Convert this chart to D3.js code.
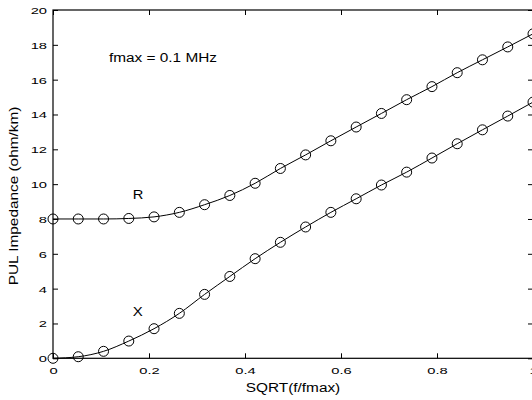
<!DOCTYPE html>
<html>
<head>
<meta charset="utf-8">
<script src="https://cdn.jsdelivr.net/npm/d3@7"></script>
<style>
  body { margin: 0; background: #fff; }
  svg text { font-family: "Liberation Sans", Arial, Helvetica, sans-serif; fill: #000; }
</style>
</head>
<body>
<div id="chart"></div>
<script>

// sample points, sqrt(f/fmax)
const sqrtF = [0, 0.0526, 0.1053, 0.1579, 0.2105, 0.2632, 0.3158, 0.3684, 0.4211, 0.4737,
               0.5263, 0.5789, 0.6316, 0.6842, 0.7368, 0.7895, 0.8421, 0.8947, 0.9474, 1];

// resistance R (ohm/km)
const rVals = [8.0, 8.0, 8.0, 8.03, 8.12, 8.38, 8.82, 9.35, 10.05, 10.9,
               11.68, 12.49, 13.28, 14.06, 14.85, 15.6, 16.4, 17.14, 17.88, 18.63];

// reactance X (ohm/km)
const xVals = [0.0, 0.09, 0.4, 0.99, 1.7, 2.58, 3.67, 4.7, 5.72, 6.66,
               7.54, 8.38, 9.16, 9.95, 10.69, 11.5, 12.32, 13.12, 13.91, 14.71];

const xTicks = [0, 0.2, 0.4, 0.6, 0.8, 1];
const yTicks = [0, 2, 4, 6, 8, 10, 12, 14, 16, 18, 20];

const W = 532, H = 400;
const box = {left: 53, right: 533, top: 10, bottom: 358.3};

// text in the reference is wide for its height
const tickFont = 9.5, tickStretch = 1.55;
const labelFont = 12.3, labelStretch = 1.25;

const svg = d3.select("#chart").append("svg")
    .attr("width", W)
    .attr("height", H);

const x = d3.scaleLinear().domain([0, 1]).range([box.left, box.right]);
const y = d3.scaleLinear().domain([0, 20]).range([box.bottom, box.top]);

// axes, ticks pointing inward
const bottomAxis = svg.append("g")
    .attr("transform", `translate(0,${box.bottom})`)
    .call(d3.axisBottom(x).tickValues(xTicks).tickSizeInner(-5).tickSizeOuter(0).tickFormat(d => String(d)));
bottomAxis.selectAll("text")
    .attr("y", 16)
    .attr("dy", 0)
    .style("font-size", tickFont + "px")
    .attr("transform", `scale(${tickStretch},1)`);

const leftAxis = svg.append("g")
    .attr("transform", `translate(${box.left},0)`)
    .call(d3.axisLeft(y).tickValues(yTicks).tickSizeInner(-5).tickSizeOuter(0).tickFormat(d => String(d)));
leftAxis.selectAll("text")
    .attr("x", -6 / tickStretch)
    .attr("dy", "0.36em")
    .style("font-size", tickFont + "px")
    .attr("transform", `scale(${tickStretch},1)`);

svg.append("g")
    .attr("transform", `translate(0,${box.top})`)
    .call(d3.axisTop(x).tickValues(xTicks).tickSizeInner(-5).tickSizeOuter(0).tickFormat(""));

svg.append("g")
    .attr("transform", `translate(${box.right},0)`)
    .call(d3.axisRight(y).tickValues(yTicks).tickSizeInner(-5).tickSizeOuter(0).tickFormat(""));

svg.selectAll(".domain").remove();
svg.selectAll(".tick line").attr("stroke", "#000");

// frame
svg.append("rect")
    .attr("x", box.left)
    .attr("y", box.top)
    .attr("width", box.right - box.left)
    .attr("height", box.bottom - box.top)
    .attr("fill", "none")
    .attr("stroke", "#000")
    .attr("stroke-width", 1.2);

// curves with circle markers
const line = d3.line()
    .x(d => x(d[0]))
    .y(d => y(d[1]))
    .curve(d3.curveMonotoneX);

[rVals, xVals].forEach(vals => {
    const pts = sqrtF.map((f, i) => [f, vals[i]]);
    svg.append("path")
        .datum(pts)
        .attr("d", line)
        .attr("fill", "none")
        .attr("stroke", "#000")
        .attr("stroke-width", 1);
    svg.append("g").selectAll("circle")
        .data(pts)
        .join("circle")
        .attr("cx", d => x(d[0]))
        .attr("cy", d => y(d[1]))
        .attr("r", 5)
        .attr("fill", "none")
        .attr("stroke", "#000")
        .attr("stroke-width", 1);
});

// helper for stretched text
function label(txt, px, py, size, stretch, anchor, rotate) {
    const t = rotate ? `translate(${px},${py}) rotate(-90) scale(${stretch},1)`
                     : `translate(${px},${py}) scale(${stretch},1)`;
    svg.append("text")
        .attr("transform", t)
        .attr("text-anchor", anchor)
        .style("font-size", size + "px")
        .text(txt);
}

label("SQRT(f/fmax)", 293, 392, labelFont, labelStretch, "middle", false);
label("PUL Impedance (ohm/km)", 18, 196, labelFont, labelStretch, "middle", true);
label("fmax = 0.1 MHz", 109, 62, labelFont, labelStretch, "start", false);
label("R", 138, 198.7, 13, 1.13, "middle", false);
label("X", 137.7, 315.7, 12.5, 1.2, "middle", false);

</script>
</body>
</html>
